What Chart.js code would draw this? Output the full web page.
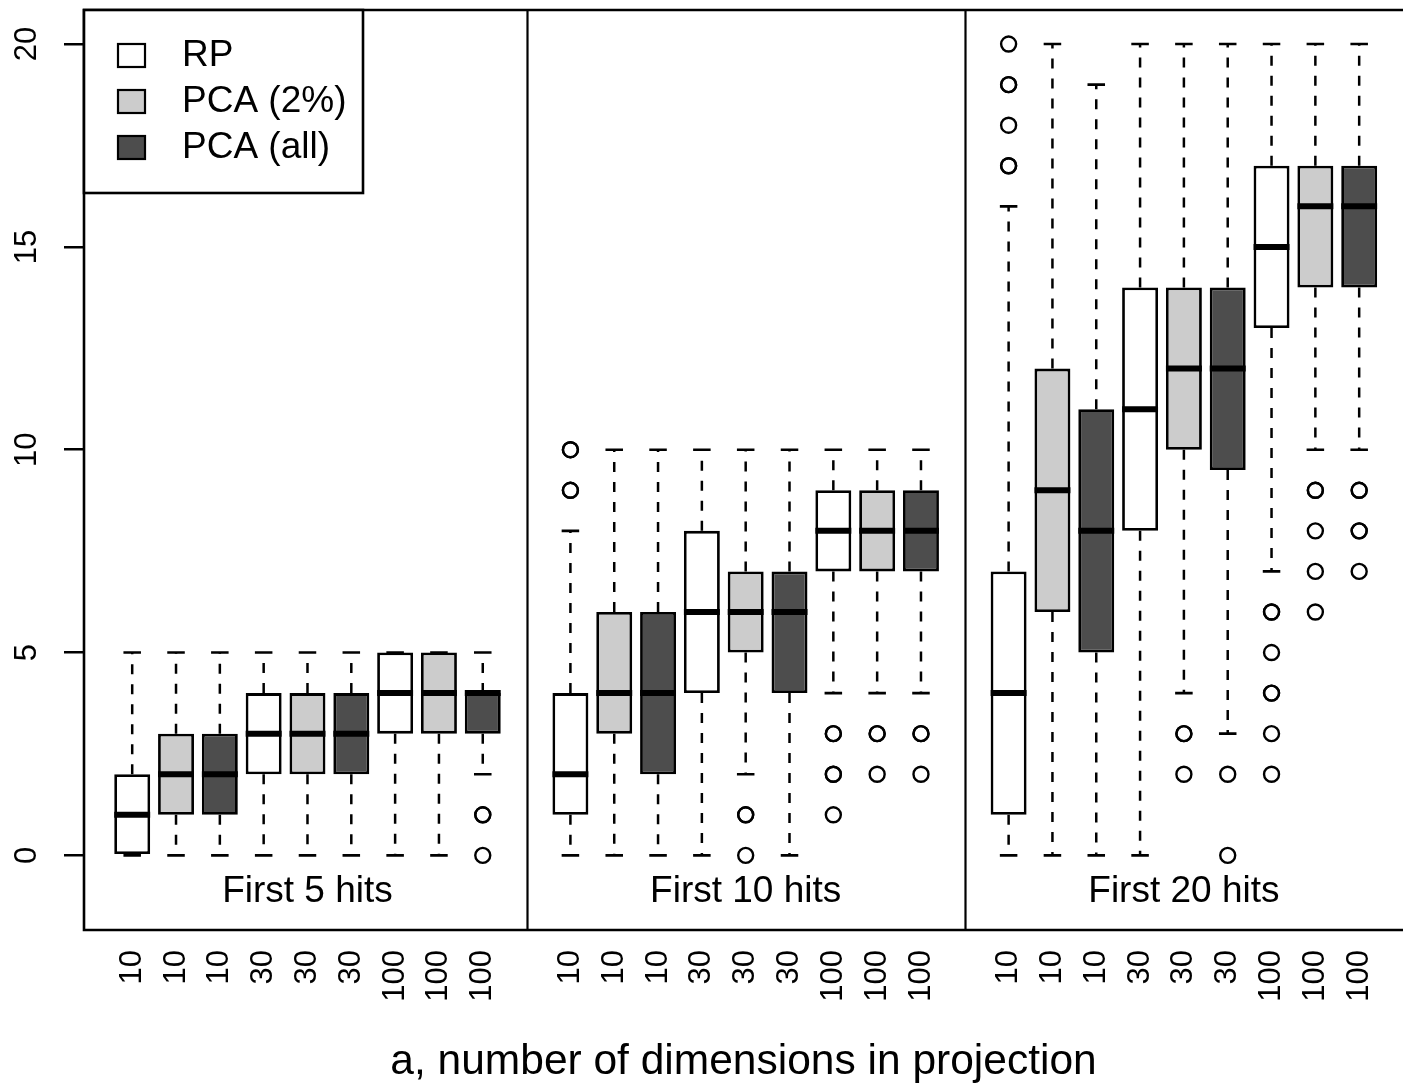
<!DOCTYPE html>
<html>
<head>
<meta charset="utf-8">
<script src="https://cdn.jsdelivr.net/npm/chart.js@4.4.1/dist/chart.umd.min.js"></script>
<style>
	html, body { margin: 0; padding: 0; background: #fff; overflow: hidden; }
	#wrap { width: 1403px; height: 1085px; position: relative; }
</style>
</head>
<body>
<div id="wrap"><canvas id="mycanvas"></canvas></div>
<script>
// box positions on the x axis (gaps at 10 and 20 between the groups)
var positions = [1,2,3,4,5,6,7,8,9, 11,12,13,14,15,16,17,18,19, 21,22,23,24,25,26,27,28,29];
var xTickLabels = ['10','10','10','30','30','30','100','100','100',
	'10','10','10','30','30','30','100','100','100',
	'10','10','10','30','30','30','100','100','100'];
var yTicks = [0, 5, 10, 15, 20];

var methodNames = ['RP', 'PCA (2%)', 'PCA (all)'];
var boxMethod = [0,1,2,0,1,2,0,1,2, 0,1,2,0,1,2,0,1,2, 0,1,2,0,1,2,0,1,2];
var groupNames = ['First 5 hits', 'First 10 hits', 'First 20 hits'];
var groupCenters = [5, 15, 25];
var groupBreaks = [10, 20];

// box statistics
var whiskLo = [0,0,0,0,0,0,0,0,2,  0,0,0,0,2,0,4,4,4,  0,0,0,0,4,3,7,10,10];
var q1      = [0,1,1,2,2,2,3,3,3,  1,3,2,4,5,4,7,7,7,  1,6,5,8,10,9.5,13,14,14];
var med     = [1,2,2,3,3,3,4,4,4,  2,4,4,6,6,6,8,8,8,  4,9,8,11,12,12,15,16,16];
var q3      = [2,3,3,4,4,4,5,5,4,  4,6,6,8,7,7,9,9,9,  7,12,11,14,14,14,17,17,17];
var whiskHi = [5,5,5,5,5,5,5,5,5,  8,10,10,10,10,10,10,10,10,  16,20,19,20,20,20,20,20,20];
var outliers = [[],[],[],[],[],[],[],[],[1,1,0],
	[10,10,9,9],[],[],[],[1,1,0],[],[3,3,2,2,1],[3,3,2],[3,3,2],
	[20,19,19,18,17,17],[],[],[],[3,3,2],[2,0],[6,6,5,4,4,3,2],[9,9,8,7,6],[9,9,8,8,7]];

var fills = ['#ffffff', '#cccccc', '#4d4d4d'];
var fontFam = '"Liberation Sans", Arial, Helvetica, sans-serif';

var boxData = [], boxFill = [], medData = [], whiskData = [], capData = [], outData = [];
for (var i = 0; i < positions.length; i++) {
	var p = positions[i];
	boxData.push({x: p, y: [q1[i], q3[i]]});
	boxFill.push(fills[boxMethod[i]]);
	medData.push({x: p - 0.41, y: med[i]}, {x: p + 0.41, y: med[i]}, {x: p, y: null});
	whiskData.push({x: p, y: q3[i]}, {x: p, y: whiskHi[i]}, {x: p, y: null},
		{x: p, y: q1[i]}, {x: p, y: whiskLo[i]}, {x: p, y: null});
	capData.push({x: p - 0.2, y: whiskHi[i]}, {x: p + 0.2, y: whiskHi[i]}, {x: p, y: null},
		{x: p - 0.2, y: whiskLo[i]}, {x: p + 0.2, y: whiskLo[i]}, {x: p, y: null});
	for (var k = 0; k < outliers[i].length; k++) {
		outData.push({x: p, y: outliers[i][k]});
	}
}

var extras = {
	id: 'extras',
	afterDatasetsDraw: function(chart) {
		var c = chart.ctx, xs = chart.scales.x, ys = chart.scales.y, a = chart.chartArea;
		c.save();
		c.strokeStyle = '#000';
		c.lineWidth = 2.2;
		groupBreaks.forEach(function(b) {
			var px = Math.round(xs.getPixelForValue(b)) + 0.5;
			c.beginPath(); c.moveTo(px, a.top); c.lineTo(px, a.bottom); c.stroke();
		});
		c.fillStyle = '#000';
		c.font = '37px ' + fontFam;
		c.textAlign = 'center';
		c.textBaseline = 'alphabetic';
		groupNames.forEach(function(g, j) {
			c.fillText(g, xs.getPixelForValue(groupCenters[j]), ys.getPixelForValue(-1.16));
		});
		c.restore();
	},
	afterDraw: function(chart) {
		var c = chart.ctx, a = chart.chartArea;
		c.save();
		c.strokeStyle = '#000';
		c.lineWidth = 2.6;
		// frame (right side runs off the picture)
		c.beginPath();
		c.moveTo(a.right + 5, a.top); c.lineTo(a.left, a.top);
		c.lineTo(a.left, a.bottom); c.lineTo(a.right + 5, a.bottom);
		c.stroke();
		// legend
		c.fillStyle = '#fff';
		c.fillRect(a.left, a.top, 279, 183);
		c.strokeRect(a.left, a.top, 279, 183);
		c.font = '37px ' + fontFam;
		c.textBaseline = 'middle';
		c.textAlign = 'left';
		methodNames.forEach(function(m, j) {
			var cy = a.top + 45.5 + j * 46;
			c.fillStyle = fills[j];
			c.fillRect(a.left + 34, cy - 11.5, 27, 23);
			c.lineWidth = 2.2;
			c.strokeRect(a.left + 34, cy - 11.5, 27, 23);
			c.fillStyle = '#000';
			c.fillText(m, a.left + 98, cy);
		});
		c.restore();
	}
};

var ctx = document.getElementById('mycanvas');

var boxChart = new Chart(ctx, {
	type: 'bar',
	data: {
		datasets: [
			{type: 'line', data: medData, borderColor: '#000', borderWidth: 6, borderCapStyle: 'butt',
				pointRadius: 0, spanGaps: false, order: 0},
			{type: 'line', data: outData, showLine: false, pointRadius: 7.5, pointBorderWidth: 2.4,
				pointBorderColor: '#000', pointBackgroundColor: 'rgba(0,0,0,0)', order: 1},
			{type: 'line', data: capData, borderColor: '#000', borderWidth: 2.6, borderCapStyle: 'butt',
				pointRadius: 0, spanGaps: false, order: 2},
			{type: 'line', data: whiskData, borderColor: '#000', borderWidth: 2.5, borderDash: [10, 10],
				borderCapStyle: 'butt', pointRadius: 0, spanGaps: false, order: 3},
			{type: 'bar', data: boxData, backgroundColor: boxFill, borderColor: '#000', borderWidth: 2.8,
				borderSkipped: false, categoryPercentage: 0.82, barPercentage: 1, order: 4}
		]
	},
	options: {
		responsive: true,
		maintainAspectRatio: false,
		animation: false,
		events: [],
		layout: {autoPadding: false, padding: {top: 10, left: 0, right: 0, bottom: 0}},
		plugins: {legend: {display: false}, tooltip: {enabled: false}},
		scales: {
			x: {
				type: 'linear', min: -0.1, max: 30.0, offset: false,
				afterBuildTicks: function(s) { s.ticks = positions.map(function(v) { return {value: v}; }); },
				afterFit: function(s) { s.height = 155; s.paddingLeft = 0; s.paddingRight = 0; },
				grid: {display: false, drawTicks: false, offset: false},
				border: {display: false},
				ticks: {
					autoSkip: false, minRotation: 90, maxRotation: 90, padding: 20, color: '#000',
					font: {family: fontFam, size: 31},
					callback: function(v, idx) { return xTickLabels[idx]; }
				},
				title: {
					display: true, text: 'a, number of dimensions in projection', color: '#000',
					font: {family: fontFam, size: 42.5, lineHeight: 1.05}, padding: {top: 0, bottom: 0}
				}
			},
			y: {
				type: 'linear', min: -1.84, max: 20.84,
				afterBuildTicks: function(s) { s.ticks = yTicks.map(function(v) { return {value: v}; }); },
				afterFit: function(s) { s.width = 84; s.paddingTop = 0; s.paddingBottom = 0; },
				grid: {drawOnChartArea: false, drawTicks: true, tickLength: 20, color: '#000', lineWidth: 2.5},
				border: {display: false},
				ticks: {
					minRotation: 90, maxRotation: 90, crossAlign: 'center', padding: 19, color: '#000',
					font: {family: fontFam, size: 31}
				}
			}
		}
	},
	plugins: [extras]
});
</script>
</body>
</html>
